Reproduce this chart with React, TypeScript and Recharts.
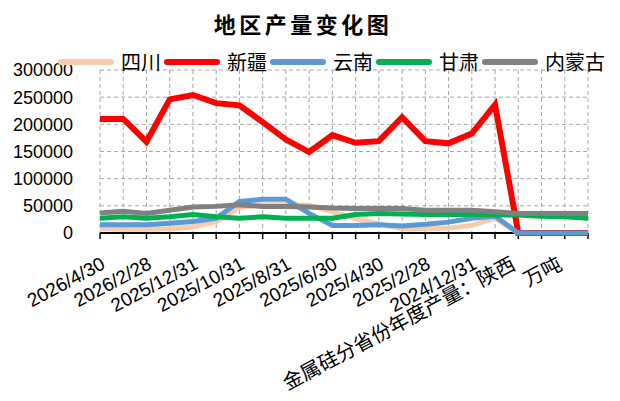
import React from "react";
import {
  LineChart,
  Line,
  XAxis,
  YAxis,
  CartesianGrid,
  Legend,
} from "recharts";

// 类别（原表中最后几行是表头文字）
const categories = [
  "2026/4/30", "2026/3/31", "2026/2/28", "2026/1/31", "2025/12/31", "2025/11/30",
  "2025/10/31", "2025/9/30", "2025/8/31", "2025/7/31", "2025/6/30", "2025/5/31",
  "2025/4/30", "2025/3/31", "2025/2/28", "2025/1/31", "2024/12/31", "2024/11/30",
  "金属硅分省份年度产量：陕西", "", "万吨", "",
];

const sichuan = [8000, 7000, 7000, 8000, 11000, 21000, 47000, 52000, 52000, 51000, 39000, 26000, 17000, 8000, 8000, 9000, 14000, 27000, 0, 0, 0, 0];
const xinjiang = [210000, 210000, 168000, 246000, 254000, 239000, 235000, 204000, 172000, 149000, 180000, 166000, 169000, 213000, 169000, 165000, 183000, 236000, 0, 0, 0, 0];
const yunnan = [15000, 15000, 15000, 18000, 21000, 27000, 58000, 62000, 62000, 36000, 14000, 14000, 15000, 13000, 16000, 20000, 27000, 31000, 0, 0, 0, 0];
const gansu = [27000, 30000, 27000, 30000, 34000, 30000, 27000, 30000, 27000, 27000, 27000, 34000, 36000, 35000, 34000, 34000, 34000, 33000, 33000, 31000, 30000, 27000];
const neimenggu = [37000, 40000, 36000, 42000, 48000, 49000, 52000, 49000, 49000, 48000, 46000, 45000, 45000, 45000, 42000, 42000, 42000, 39000, 36000, 36000, 36000, 36000];

const yTicks = [0, 50000, 100000, 150000, 200000, 250000, 300000];

const series = [
  { key: "四川", values: sichuan, color: "#F8CBAD", width: 5 },
  { key: "新疆", values: xinjiang, color: "#FF0000", width: 6 },
  { key: "云南", values: yunnan, color: "#5B9BD5", width: 5 },
  { key: "甘肃", values: gansu, color: "#00B050", width: 5 },
  { key: "内蒙古", values: neimenggu, color: "#808080", width: 5 },
];

const data = categories.map((cat, i) => {
  const row: Record<string, string | number> = { cat };
  series.forEach((s) => {
    row[s.key] = s.values[i];
  });
  return row;
});

const FONT = '"Liberation Sans", "Noto Sans CJK SC", sans-serif';
const CJK = '"Noto Sans CJK SC", sans-serif';

const renderLegend = () => (
  <div style={{ display: "flex", alignItems: "center", whiteSpace: "nowrap" }}>
    {series.map((s) => (
      <div
        key={s.key}
        style={{ display: "flex", alignItems: "center", marginRight: 3 }}
      >
        <span
          style={{
            display: "inline-block",
            width: 56,
            height: 6,
            borderRadius: 3,
            background: s.color,
            marginRight: 7,
          }}
        />
        <span style={{ fontFamily: CJK, fontSize: 20, color: "#000", lineHeight: "24px" }}>
          {s.key}
        </span>
      </div>
    ))}
  </div>
);

// 每隔一个类别显示一个标签
const CatTick = (props: any) => {
  const { x, y, index, payload } = props;
  if (index % 2 !== 0) return null;
  const text = String(payload.value ?? "");
  const isCjk = /[\u4e00-\u9fff]/.test(text);
  const tx = isCjk ? x - 8 : x;
  return (
    <text
      x={tx}
      y={y}
      dy="0.71em"
      textAnchor="end"
      transform={`rotate(-28, ${tx}, ${y})`}
      fill="#000"
      fontSize={isCjk ? 20 : 19}
      fontFamily={isCjk ? CJK : FONT}
    >
      {text}
    </text>
  );
};

const App: React.FC = () => {
  return (
    <div style={{ position: "relative", width: 612, height: 393 }}>
      <div
        style={{
          position: "absolute",
          top: 2,
          left: 0,
          width: 590,
          textAlign: "center",
          fontFamily: CJK,
          fontWeight: "bold",
          fontSize: 22,
          letterSpacing: 3.5,
          lineHeight: "26px",
          color: "#000",
        }}
      >
        地区产量变化图
      </div>
      <LineChart
        width={612}
        height={393}
        data={data}
        margin={{ top: 62, right: 32, left: 0, bottom: 0 }}
      >
        <CartesianGrid stroke="#A6A6A6" strokeDasharray="4 3" />
        <XAxis
          dataKey="cat"
          type="category"
          interval={0}
          height={168}
          tickSize={6}
          tickMargin={17}
          tick={<CatTick />}
          axisLine={{ stroke: "#000", strokeWidth: 2 }}
          tickLine={{ stroke: "#000", strokeWidth: 1.5 }}
          {...({ zIndex: 300 } as any)}
        />
        <YAxis
          width={92}
          domain={[0, 300000]}
          ticks={yTicks}
          axisLine={false}
          tickLine={false}
          tickSize={0}
          tickMargin={27}
          tick={{ fill: "#000", fontSize: 18, fontFamily: FONT }}
        />
        <Legend
          verticalAlign="middle"
          layout="horizontal"
          content={renderLegend}
          wrapperStyle={{ top: 42, left: 50, width: 580 }}
        />
        {series.map((s) => (
          <Line
            key={s.key}
            type="linear"
            dataKey={s.key}
            stroke={s.color}
            strokeWidth={s.width}
            dot={false}
            activeDot={false}
            isAnimationActive={false}
            {...({ zIndex: 600 } as any)}
          />
        ))}
      </LineChart>
    </div>
  );
};

export default App;
